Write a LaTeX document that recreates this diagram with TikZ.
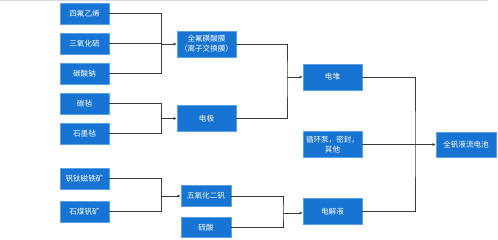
\documentclass[tikz,border=0pt]{standalone}
\usepackage{fontspec}
\setmainfont{Noto Sans CJK SC}
\usepackage{tikz}
\usetikzlibrary{arrows.meta,positioning,calc}
\definecolor{boxblue}{HTML}{1874D2}
\definecolor{boxedge}{HTML}{5AA2EA}
\definecolor{wire}{HTML}{3A3A3A}
\tikzset{
  box/.style    ={draw=boxedge,fill=boxblue,text=white,line width=0.6bp,inner sep=0pt,
                  font=\fontsize{7.6}{10}\selectfont,align=center},
  srcbox/.style ={box,minimum width=49bp,minimum height=21bp},
  midbox/.style ={box,minimum width=59bp,minimum height=26bp},
  oxbox/.style  ={box,minimum width=50bp,minimum height=20.5bp},
  wire/.style   ={draw=wire,line width=0.8bp},
  feed/.style   ={wire,-{Latex[length=3.2bp,width=3bp]}},
}

\begin{document}
\begin{tikzpicture}[x=1bp,y=-1bp]
  \useasboundingbox (0,0) rectangle (498,239);
  \draw[gray!30,line width=1.2bp] (0,0.6) -- (488,0.6);
  % LEFT: raw materials
  \node[srcbox] (ptfe)  at (84.5,13.5)  {四氟乙烯};
  \node[srcbox] (so3)   at (84.5,43.5)  {三氧化硫};
  \node[srcbox] (soda)  at (84.5,73.5)  {碳酸钠};
  \node[srcbox] (cfelt) at (84.5,103.5) {碳毡};
  \node[srcbox] (gfelt) at (84.5,133.5) {石墨毡};
  \node[srcbox] (vtmag) at (84.5,178.5) {钒钛磁铁矿};
  \node[srcbox] (coalv) at (84.5,211.5) {石煤钒矿};
  % MIDDLE: parts
  \node[midbox] (membr) at (206.5,44)   {全氟磺酸膜\\（离子交换膜）};
  \node[midbox] (elect) at (206.5,118.5) {电极};
  \node[oxbox]  (v2o5)  at (206,196)    {五氧化二钒};
  \node[oxbox]  (acid)  at (206,227.5)  {硫酸};
  % RIGHT: assemblies and battery
  \node[midbox] (stack) at (332.5,77)    {电堆};
  \node[midbox] (pump)  at (332.5,144.5) {循环泵，密封，\\其他};
  \node[midbox] (elyte) at (332.5,211.5) {电解液};
  \node[box,minimum width=60bp,minimum height=25bp] (vrfb) at (466,144.5) {全钒液流电池};

  % junctions
  \coordinate (jm) at (161.7,44);
  \coordinate (je) at (161.7,118.5);
  \coordinate (jv) at (161.7,196);
  \coordinate (js) at (287,77);
  \coordinate (jl) at (283,213);
  \coordinate (jb) at (415,144.5);

  \draw[wire] (ptfe.east) -| (jm) |- (soda.east);
  \draw[wire] (so3.east) -- (so3.east -| jm);
  \draw[feed] (jm) -- (jm -| membr.west);

  \draw[wire] (cfelt.east) -| (je) |- (gfelt.east);
  \draw[feed] (je) -- (elect.west);

  \draw[wire] (vtmag.east) -| (jv) |- (coalv.east);
  \draw[feed] (jv) -- (v2o5.west);

  \draw[wire] (membr.east) -| (js) |- (elect.east);
  \draw[feed] (js) -- (stack.west);

  \draw[wire] (v2o5.east) -| (jl) |- (acid.east);
  \draw[feed] (jl) -- (jl -| elyte.west);

  \draw[wire] (stack.east) -| (jb) |- (elyte.east);
  \draw[wire] (pump.east) -- (jb);
  \draw[feed] (jb) -- (vrfb.west);
\end{tikzpicture}
\end{document}
